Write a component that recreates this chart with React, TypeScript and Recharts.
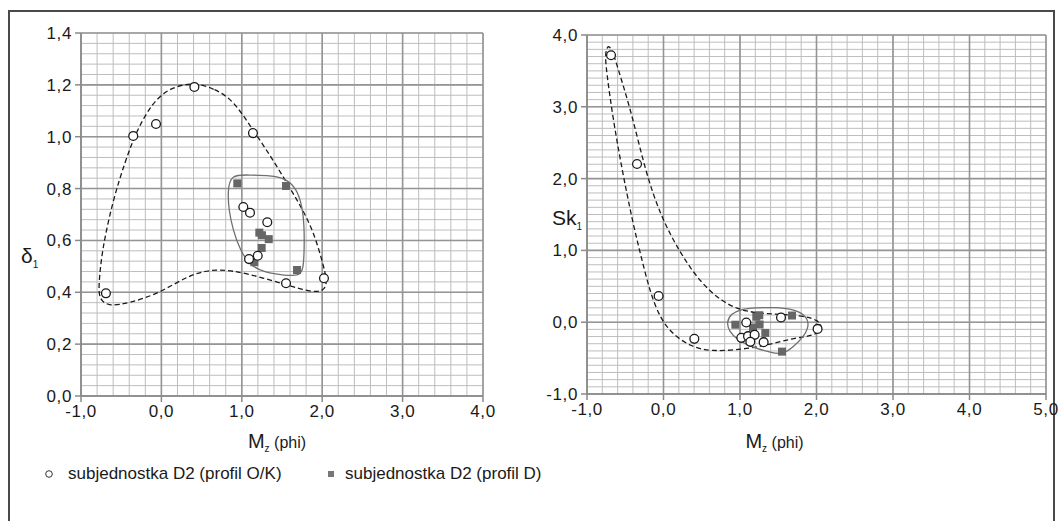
import React from 'react';
import { ScatterChart, Scatter, XAxis, YAxis, CartesianGrid } from 'recharts';

type Pt = { x: number; y: number };

// left panel: Mz vs sorting (δ1)
const leftOK: Pt[] = [
  { x: -0.69, y: 0.396 }, { x: -0.35, y: 1.003 }, { x: -0.067, y: 1.049 }, { x: 0.41, y: 1.192 },
  { x: 1.139, y: 1.014 }, { x: 1.019, y: 0.729 }, { x: 1.102, y: 0.707 }, { x: 1.317, y: 0.67 },
  { x: 1.09, y: 0.528 }, { x: 1.198, y: 0.541 }, { x: 1.55, y: 0.435 }, { x: 2.022, y: 0.454 },
];
const leftD: Pt[] = [
  { x: 0.944, y: 0.82 }, { x: 1.55, y: 0.81 }, { x: 1.218, y: 0.63 }, { x: 1.251, y: 0.62 },
  { x: 1.335, y: 0.605 }, { x: 1.247, y: 0.571 }, { x: 1.156, y: 0.516 }, { x: 1.687, y: 0.486 },
];
const leftOuter: Pt[] = [
  { x: 0.405, y: 1.21 }, { x: 0.667, y: 1.184 }, { x: 0.891, y: 1.142 }, { x: 1.139, y: 1.026 },
  { x: 1.351, y: 0.929 }, { x: 1.562, y: 0.821 }, { x: 1.724, y: 0.737 }, { x: 1.886, y: 0.64 },
  { x: 1.998, y: 0.524 }, { x: 2.07, y: 0.435 }, { x: 2.01, y: 0.402 }, { x: 1.848, y: 0.402 },
  { x: 1.562, y: 0.428 }, { x: 1.065, y: 0.474 }, { x: 0.692, y: 0.492 }, { x: 0.356, y: 0.47 },
  { x: -0.017, y: 0.397 }, { x: -0.391, y: 0.359 }, { x: -0.65, y: 0.345 }, { x: -0.775, y: 0.372 },
  { x: -0.78, y: 0.428 }, { x: -0.739, y: 0.563 }, { x: -0.602, y: 0.756 }, { x: -0.453, y: 0.902 },
  { x: -0.316, y: 1.018 }, { x: -0.117, y: 1.13 }, { x: 0.107, y: 1.19 },
];
const leftInner: Pt[] = [
  { x: 0.86, y: 0.855 }, { x: 1.102, y: 0.852 }, { x: 1.351, y: 0.85 }, { x: 1.537, y: 0.84 },
  { x: 1.674, y: 0.804 }, { x: 1.749, y: 0.737 }, { x: 1.777, y: 0.659 }, { x: 1.777, y: 0.563 },
  { x: 1.765, y: 0.49 }, { x: 1.72, y: 0.463 }, { x: 1.537, y: 0.465 }, { x: 1.289, y: 0.476 },
  { x: 1.102, y: 0.503 }, { x: 0.978, y: 0.563 }, { x: 0.891, y: 0.64 }, { x: 0.838, y: 0.717 },
  { x: 0.825, y: 0.79 },
];

// right panel: Mz vs skewness (Sk1)
const rightOK: Pt[] = [
  { x: -0.686, y: 3.718 }, { x: -0.346, y: 2.204 }, { x: -0.064, y: 0.365 }, { x: 0.403, y: -0.232 },
  { x: 1.082, y: -0.004 }, { x: 1.536, y: 0.065 }, { x: 2.014, y: -0.093 }, { x: 1.017, y: -0.218 },
  { x: 1.105, y: -0.194 }, { x: 1.191, y: -0.176 }, { x: 1.135, y: -0.274 }, { x: 1.309, y: -0.278 },
];
const rightD: Pt[] = [
  { x: 0.939, y: -0.035 }, { x: 1.213, y: 0.076 }, { x: 1.252, y: 0.097 }, { x: 1.68, y: 0.093 },
  { x: 1.17, y: -0.074 }, { x: 1.256, y: -0.032 }, { x: 1.331, y: -0.149 }, { x: 1.549, y: -0.41 },
];
const rightOuter: Pt[] = [
  { x: -0.72, y: 3.88 }, { x: -0.656, y: 3.75 }, { x: -0.565, y: 3.431 }, { x: -0.408, y: 2.875 },
  { x: -0.238, y: 2.111 }, { x: -0.042, y: 1.486 }, { x: 0.22, y: 0.958 }, { x: 0.481, y: 0.556 },
  { x: 0.769, y: 0.278 }, { x: 1.069, y: 0.139 }, { x: 1.461, y: 0.111 }, { x: 1.788, y: 0.097 },
  { x: 2.023, y: 0.035 }, { x: 2.085, y: -0.083 }, { x: 1.984, y: -0.185 }, { x: 1.697, y: -0.222 },
  { x: 1.357, y: -0.319 }, { x: 1.043, y: -0.378 }, { x: 0.612, y: -0.41 }, { x: 0.351, y: -0.337 },
  { x: 0.116, y: -0.167 }, { x: -0.042, y: 0.056 }, { x: -0.173, y: 0.403 }, { x: -0.303, y: 0.958 },
  { x: -0.408, y: 1.417 }, { x: -0.539, y: 2.111 }, { x: -0.656, y: 2.806 }, { x: -0.747, y: 3.5 },
  { x: -0.765, y: 3.75 },
];
const rightInner: Pt[] = [
  { x: 0.825, y: 0 }, { x: 0.88, y: 0.115 }, { x: 1.004, y: 0.18 }, { x: 1.2, y: 0.205 },
  { x: 1.461, y: 0.205 }, { x: 1.684, y: 0.185 }, { x: 1.845, y: 0.111 }, { x: 1.912, y: -0.028 },
  { x: 1.841, y: -0.194 }, { x: 1.697, y: -0.347 }, { x: 1.553, y: -0.455 }, { x: 1.396, y: -0.42 },
  { x: 1.161, y: -0.347 }, { x: 0.965, y: -0.25 }, { x: 0.855, y: -0.125 },
];

const leftXTicks = [-1, 0, 1, 2, 3, 4];
const leftYTicks = [0, 0.2, 0.4, 0.6, 0.8, 1.0, 1.2, 1.4];
const rightXTicks = [-1, 0, 1, 2, 3, 4, 5];
const rightYTicks = [-1, 0, 1, 2, 3, 4];

// fine graph-paper lines
const steps = (from: number, to: number, step: number) => {
  const out: number[] = [];
  const n = Math.round((to - from) / step);
  for (let i = 0; i <= n; i++) out.push(Math.round((from + i * step) * 1000) / 1000);
  return out;
};

const FONT = '"Liberation Sans", Arial, sans-serif';
const fmt = (v: number) => v.toFixed(1).replace('.', ',');

const OpenCircle = (p: any) => (
  <circle cx={p.cx} cy={p.cy} r={4.4} fill="#fff" stroke="#1a1a1a" strokeWidth={1.3} />
);
const GraySquare = (p: any) => (
  <rect x={p.cx - 4} y={p.cy - 4} width={8} height={8} fill="#666" />
);
const NoDot = () => <g />;

const Tick = (p: any) => (
  <text
    x={p.x}
    y={p.y}
    dy={p.verticalAnchor === 'start' ? 13 : 6}
    textAnchor={p.textAnchor}
    fill="#1a1a1a"
    fontSize={17}
    letterSpacing={0.6}
    fontFamily={FONT}
  >
    {fmt(p.payload.value)}
  </text>
);
const axisStroke = { stroke: '#8a8a8a', strokeWidth: 1.5 };

const XTitle = ({ viewBox, shift, dy }: any) => (
  <text
    x={viewBox.x + viewBox.width / 2 + shift}
    y={viewBox.y + dy}
    textAnchor="middle"
    fill="#1a1a1a"
    fontFamily={FONT}
  >
    <tspan fontSize={20}>M</tspan>
    <tspan fontSize={10} dy={4}>z</tspan>
    <tspan fontSize={16} dy={-4}> (phi)</tspan>
  </text>
);

const YTitle = ({ viewBox, main, sub, dx, dy }: any) => (
  <text x={viewBox.x + dx} y={viewBox.y + dy} fill="#1a1a1a" fontFamily={FONT}>
    <tspan fontSize={21}>{main}</tspan>
    <tspan fontSize={10} dy={5}>{sub}</tspan>
  </text>
);

const Panel = ({
  width, margin, yWidth, xDomain, yDomain, xTicks, yTicks, xMinor, yMinor,
  ok, d, outer, inner, xTitle, yTitle,
}: any) => (
  <ScatterChart width={width} height={470} margin={margin}>
    <CartesianGrid verticalValues={xMinor} horizontalValues={yMinor} stroke="#bdbdbd" strokeWidth={1} />
    <CartesianGrid verticalValues={xTicks} horizontalValues={yTicks} stroke="#959595" strokeWidth={1.6} />
    <XAxis
      type="number" dataKey="x" domain={xDomain} ticks={xTicks} interval={0}
      tick={<Tick />} tickSize={6} tickMargin={2}
      axisLine={axisStroke} tickLine={axisStroke} height={30}
      label={{ content: (p: any) => <XTitle viewBox={p.viewBox} {...xTitle} /> }}
    />
    <YAxis
      type="number" dataKey="y" domain={yDomain} ticks={yTicks} interval={0}
      tick={<Tick />} tickSize={6} tickMargin={3}
      axisLine={axisStroke} tickLine={axisStroke} width={yWidth}
      label={{ content: (p: any) => <YTitle viewBox={p.viewBox} {...yTitle} /> }}
    />
    <Scatter
      data={outer} shape={NoDot} isAnimationActive={false} lineJointType="basisClosed"
      line={{ stroke: '#1a1a1a', strokeWidth: 1.3, strokeDasharray: '5 3' }}
    />
    <Scatter
      data={inner} shape={NoDot} isAnimationActive={false} lineJointType="basisClosed"
      line={{ stroke: '#707070', strokeWidth: 1.3 }}
    />
    <Scatter data={d} shape={GraySquare} isAnimationActive={false} />
    <Scatter data={ok} shape={OpenCircle} isAnimationActive={false} />
  </ScatterChart>
);

export default function App() {
  return (
    <div style={{ position: 'absolute', left: 0, top: 0, width: 1061, height: 521, overflow: 'hidden', background: '#fff', fontFamily: FONT }}>
      <div style={{ position: 'absolute', left: 8, top: 10, width: 1047, height: 530, border: '2px solid #4a4a4a', boxSizing: 'border-box' }} />
      <div style={{ position: 'absolute', left: 0, top: 0 }}>
        <Panel
          width={500} margin={{ top: 33, right: 17, bottom: 44, left: 0 }} yWidth={81}
          xDomain={[-1, 4]} yDomain={[0, 1.4]} xTicks={leftXTicks} yTicks={leftYTicks}
          xMinor={steps(-1, 4, 0.2)} yMinor={steps(0, 1.4, 0.04)}
          ok={leftOK} d={leftD} outer={leftOuter} inner={leftInner}
          xTitle={{ shift: -5, dy: 52 }}
          yTitle={{ main: 'δ', sub: '1', dx: 21, dy: 230 }}
        />
      </div>
      <div style={{ position: 'absolute', left: 500, top: 0 }}>
        <Panel
          width={561} margin={{ top: 35, right: 15, bottom: 46, left: 0 }} yWidth={87}
          xDomain={[-1, 5]} yDomain={[-1, 4]} xTicks={rightXTicks} yTicks={rightYTicks}
          xMinor={steps(-1, 5, 0.2)} yMinor={steps(-1, 4, 0.1)}
          ok={rightOK} d={rightD} outer={rightOuter} inner={rightInner}
          xTitle={{ shift: -42, dy: 54 }}
          yTitle={{ main: 'Sk', sub: '1', dx: 52, dy: 190 }}
        />
      </div>
      <div style={{ position: 'absolute', left: 0, top: 464, width: 1061, fontSize: 17, color: '#1a1a1a' }}>
        <span style={{ position: 'absolute', left: 44, top: 0, display: 'flex', alignItems: 'center', whiteSpace: 'nowrap' }}>
          <svg width={10} height={10} style={{ marginRight: 14 }}>
            <circle cx={5} cy={5} r={3.3} fill="#fff" stroke="#333" strokeWidth={1} />
          </svg>
          subjednostka D2 (profil O/K)
        </span>
        <span style={{ position: 'absolute', left: 326, top: 0, display: 'flex', alignItems: 'center', whiteSpace: 'nowrap' }}>
          <svg width={10} height={10} style={{ marginRight: 9 }}>
            <rect x={2} y={2} width={6} height={6} fill="#777" />
          </svg>
          subjednostka D2 (profil D)
        </span>
      </div>
    </div>
  );
}
